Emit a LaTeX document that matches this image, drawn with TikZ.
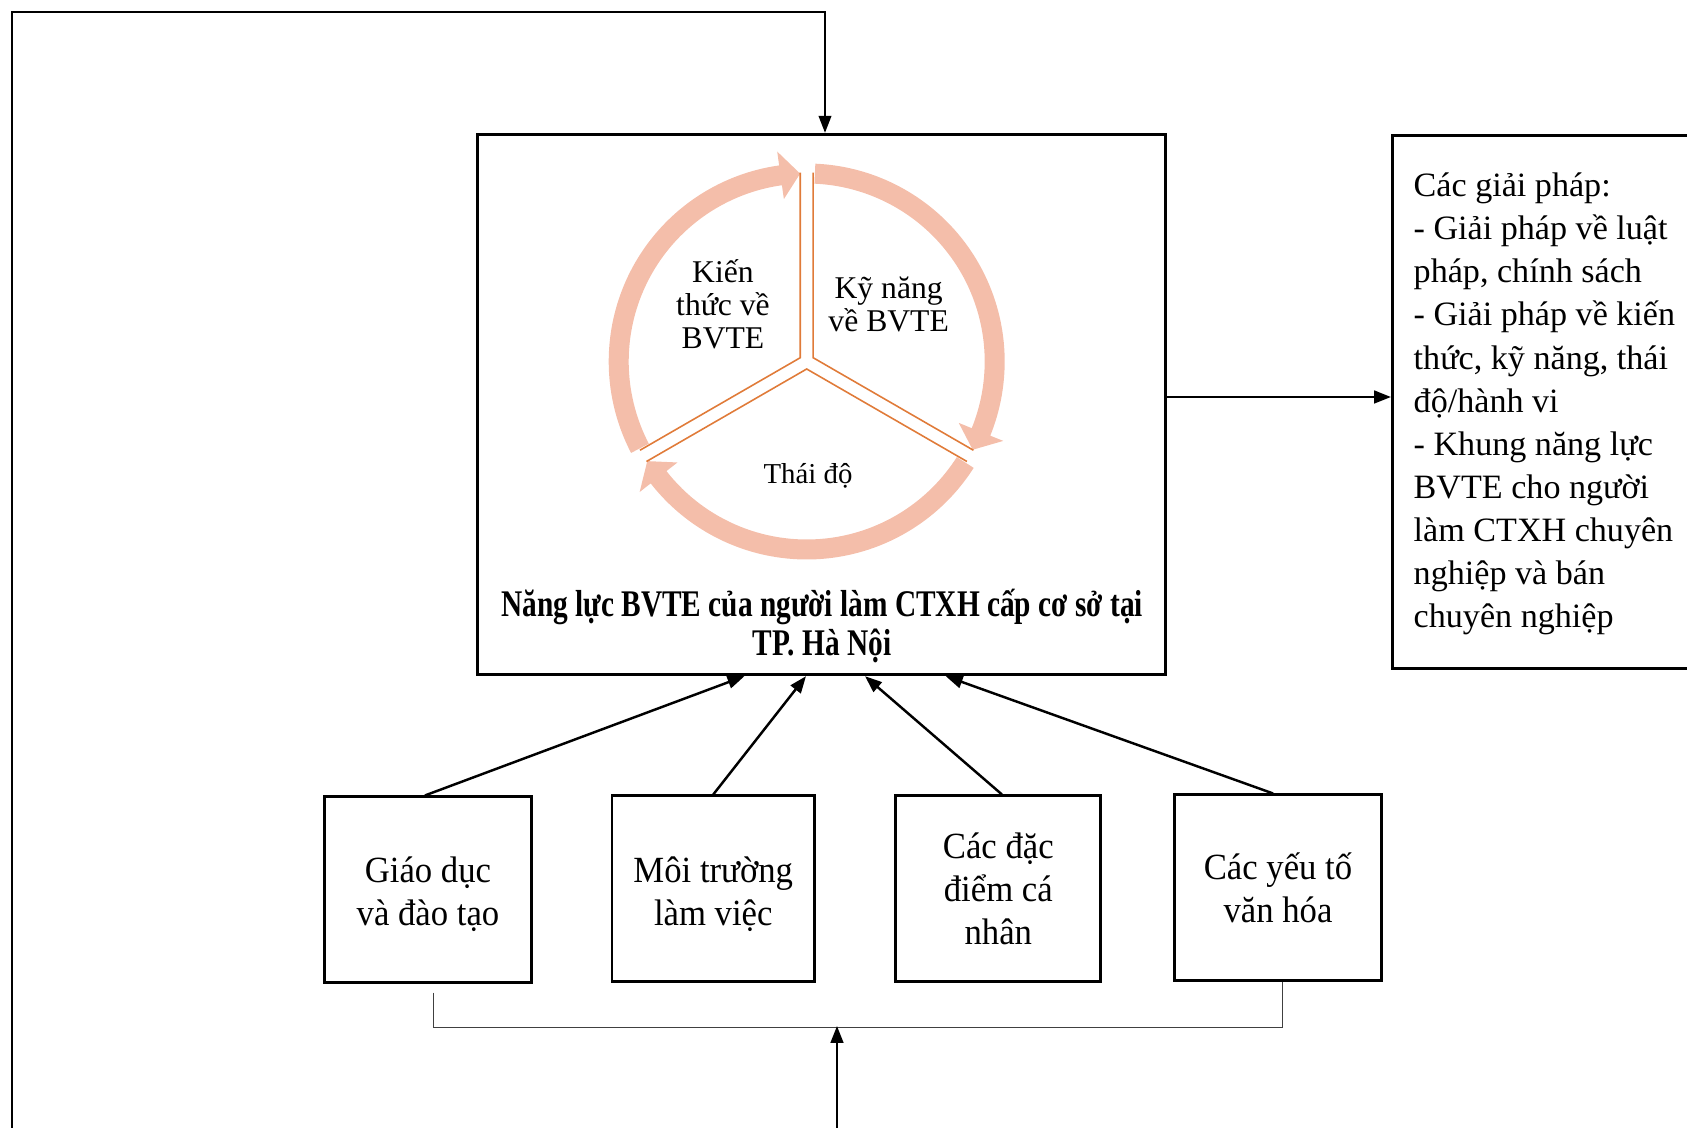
\documentclass[tikz,border=0pt]{standalone}
\usepackage{fontspec}
\setmainfont{Liberation Serif}
\newfontfamily\titlefont{Liberation Serif}[FakeStretch=0.78]
\newfontfamily\boxfont{Liberation Serif}[FakeStretch=0.94]
\usetikzlibrary{arrows.meta}
\definecolor{ringc}{HTML}{F4BEAA}
\definecolor{wedgec}{HTML}{E07B39}
\tikzset{
  boxst/.style={draw=black, line width=0.85pt, inner sep=0pt, align=center,
    font=\boxfont\fontsize{10.5pt}{12.23pt}\selectfont},
  frame/.style={draw=black, line width=0.85pt, inner sep=0pt},
  arr/.style={-{Triangle[length=4.8pt,width=3.6pt]}},
  conn/.style={line width=0.7pt},
  fbline/.style={line width=0.45pt},
  brline/.style={line width=0.35pt, draw=black!75},
  wline/.style={draw=wedgec, line width=0.45pt},
  circtext/.style={inner sep=0pt, align=center, font=\fontsize{9pt}{9.4pt}\selectfont}
}
\begin{document}
\begin{tikzpicture}[x=0.01cm, y=-0.01cm]
\useasboundingbox (0,0) rectangle (1687,1128);
\clip (0,0) rectangle (1687,1128);

% main box
\node[frame, minimum width=6.87cm, minimum height=5.401cm] (main) at (821.5,404.5) {};

% ring of arrows
\begin{scope}[shift={(806.7,361.5)}, yscale=-1]
  \foreach \t/\h in {207.5/92, 87.5/-28, -32.5/-148} {
    \pgfmathsetmacro\hb{\h+6}
    \fill[ringc] (\t:198) arc[start angle=\t, end angle=\hb, radius=198]
      -- (\hb:212) -- (\h:188) -- (\hb:164) -- (\hb:178)
      arc[start angle=\hb, end angle=\t, radius=178] -- cycle;
  }
  \draw[wline] (150:7.5) ++(90:185) -- (150:7.5) -- ++(210:185);
  \draw[wline] (30:7.5) ++(90:185) -- (30:7.5) -- ++(-30:185);
  \draw[wline] (270:7.5) ++(210:185) -- (270:7.5) -- ++(-30:185);
\end{scope}

\node[circtext] (kt) at (723,304) {Kiến\\thức về\\BVTE};
\node[circtext] (kn) at (888.7,304) {Kỹ năng\\về BVTE};
\node[inner sep=0pt, font=\fontsize{8.2pt}{9pt}\selectfont] (td) at (808,475.5) {Thái độ};

\node[inner sep=0pt, align=center, font=\titlefont\bfseries\fontsize{10.7pt}{11.1pt}\selectfont] (title) at (822,626)
  {Năng lực BVTE của người làm CTXH cấp cơ sở tại\\TP. Hà Nội};

% right box
\node[frame, anchor=north west, minimum width=3.29cm, minimum height=5.325cm] (rbox) at (1391,134.5) {};
\node[anchor=west, align=left, inner sep=0pt, font=\fontsize{9.7pt}{12.26pt}\selectfont] (rtext) at (1413,404)
  {Các giải pháp:\\- Giải pháp về luật\\pháp, chính sách\\- Giải pháp về kiến\\thức, kỹ năng, thái\\độ/hành vi\\- Khung năng lực\\BVTE cho người\\làm CTXH chuyên\\nghiệp và bán\\chuyên nghiệp};

% bottom boxes
\node[boxst, minimum width=2.065cm, minimum height=1.85cm] (b1) at (428,889.5) {\rule{0pt}{9.9pt}Giáo dục\\và đào tạo};
\node[boxst, minimum width=2.025cm, minimum height=1.85cm] (b2) at (713.3,888.5) {\rule{0pt}{10.3pt}Môi trường\\làm việc};
\node[boxst, minimum width=2.046cm, minimum height=1.85cm] (b3) at (998.3,888.5) {Các đặc\\điểm cá\\nhân};
\node[boxst, minimum width=2.06cm, minimum height=1.85cm] (b4) at (1278,887.5) {Các yếu tố\\văn hóa};

% connectors
\draw[conn,arr] ([xshift=-0.03cm]b1.north) -- ([xshift=-0.77cm]main.south);
\draw[conn,arr] (b2.north) -- ([xshift=-0.155cm]main.south);
\draw[conn,arr] ([xshift=0.036cm]b3.north) -- ([xshift=0.435cm]main.south);
\draw[conn,arr] ([xshift=-0.05cm]b4.north) -- ([xshift=1.242cm]main.south);

\coordinate (ra) at ([yshift=0.075cm]main.east);
\draw[conn,arr] (ra) -- (ra -| rbox.west);

\coordinate (fbstart) at (12,1140);
\coordinate (fbtop) at (12,12);
\coordinate (mtop) at ([xshift=0.035cm]main.north);
\draw[fbline,arr] (fbstart) -- (fbtop) -- (fbtop -| mtop) -- (mtop);

\draw[brline] ([xshift=0.056cm,yshift=-0.09cm]b1.south) -- ++(0,35) -| ([xshift=0.045cm]b4.south);

\coordinate (bin) at (837,1140);
\coordinate (bmid) at (837,1026);
\draw[conn,arr] (bin) -- (bmid);
\end{tikzpicture}
\end{document}
